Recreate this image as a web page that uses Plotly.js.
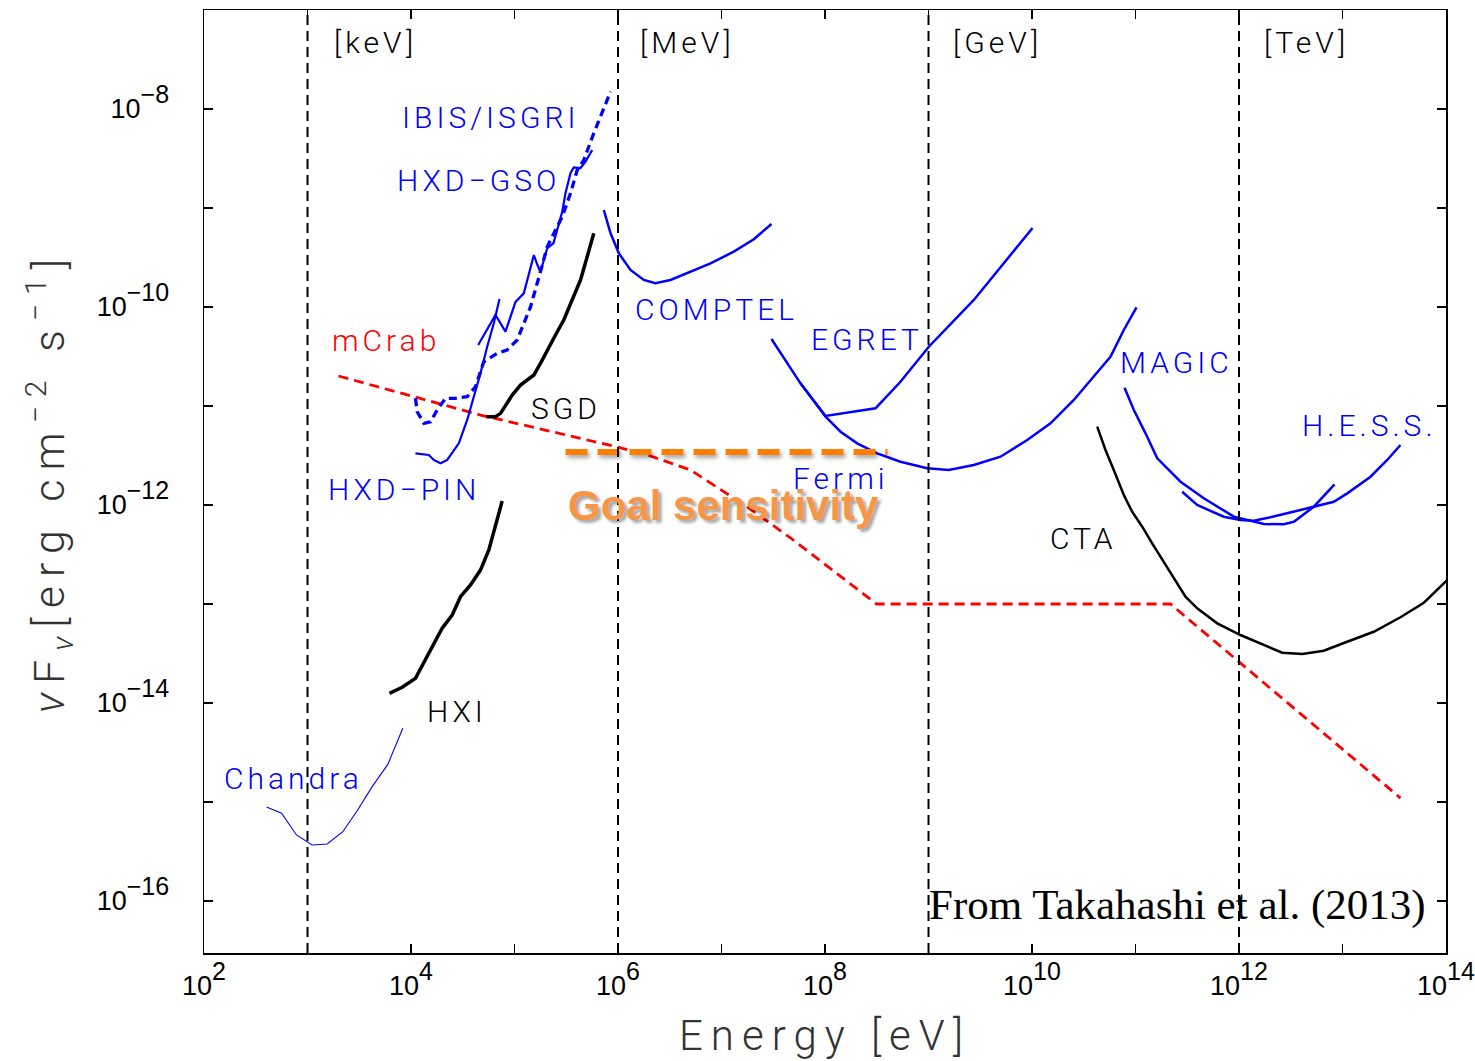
<!DOCTYPE html>
<html><head><meta charset="utf-8">
<script src="https://cdn.plot.ly/plotly-3.0.1.min.js"></script>
<style>html,body{margin:0;padding:0;background:#fff}</style>
</head><body><div id="chart" style="width:1475px;height:1061px"></div>
<script>
// ---------------- data (energy in eV, nuFnu in erg cm^-2 s^-1) ----------------
var chandraE = [402, 561, 783, 1109, 1549, 2193, 3020, 4217, 5970, 8337];
var chandraF = [8.89e-16, 7.69e-16, 4.65e-16, 3.68e-16, 3.77e-16, 5.01e-16, 8.17e-16, 1.43e-15, 2.40e-15, 5.55e-15];

var hxiE = [6194, 8222, 11040, 16030, 20000, 25000, 30060, 37580, 46880, 56490, 65460, 76030];
var hxiF = [1.253e-14, 1.442e-14, 1.774e-14, 3.707e-14, 5.689e-14, 7.745e-14, 1.186e-13, 1.556e-13, 2.203e-13, 3.508e-13, 6.039e-13, 1.096e-12];

var pinE = [11040, 14860, 16600, 19280, 22390, 28970, 34910, 40460, 46880, 54450, 63100, 71610];
var pinF = [3.327e-12, 3.199e-12, 2.851e-12, 2.636e-12, 2.851e-12, 4.198e-12, 7.228e-12, 1.242e-11, 2.138e-11, 3.972e-11, 6.839e-11, 1.205e-10];

var gsoE = [44570, 65460, 81850, 102300, 123000, 137400, 153800, 166700, 178200, 207000, 238200, 289100, 311200, 347500, 374100, 434500, 485300, 563600];
var gsoF = [4.130e-11, 8.299e-11, 5.636e-11, 1.125e-10, 1.374e-10, 2.188e-10, 3.350e-10, 2.655e-10, 2.259e-10, 3.917e-10, 4.426e-10, 9.183e-10, 1.419e-9, 2.244e-9, 2.576e-9, 2.535e-9, 2.938e-9, 3.855e-9];

var ibisE = [11040, 11480, 13310, 15420, 17910, 21530, 26920, 34910, 41980, 50470, 68080, 84920, 106200, 123000, 142900, 178200, 207000, 289100, 347500, 403600, 467700, 583400, 703100, 847200];
var ibisF = [1.197e-11, 8.750e-12, 6.683e-12, 6.934e-12, 9.120e-12, 1.197e-11, 1.197e-11, 1.242e-11, 1.567e-11, 2.799e-11, 3.404e-11, 3.681e-11, 4.645e-11, 6.839e-11, 1.007e-10, 2.275e-10, 4.064e-10, 8.166e-10, 1.406e-9, 2.421e-9, 3.055e-9, 5.689e-9, 9.057e-9, 1.496e-8];

var sgdE = [53580, 65460, 73280, 81850, 95060, 114300, 132700, 153800, 178200, 207000, 248900, 299200, 374100, 434500, 503500, 583400];
var sgdF = [7.798e-12, 7.798e-12, 8.433e-12, 1.023e-11, 1.291e-11, 1.629e-11, 1.832e-11, 2.056e-11, 2.698e-11, 3.681e-11, 5.212e-11, 7.396e-11, 1.271e-10, 1.875e-10, 3.221e-10, 5.546e-10];

var comptelE = [7.295e5, 8.472e5, 1.019e6, 1.321e6, 1.774e6, 2.301e6, 3.214e6, 4.667e6, 7.834e6, 1.315e7, 2.051e7, 3.041e7];
var comptelF = [9.550e-10, 5.546e-10, 3.483e-10, 2.366e-10, 1.875e-10, 1.738e-10, 1.875e-10, 2.188e-10, 2.761e-10, 3.622e-10, 4.831e-10, 6.887e-10];

var egretE = [3.041e7, 5.794e7, 1.012e8, 3.076e8, 5.358e8, 1.007e9, 2.742e9, 1.012e10];
var egretF = [4.753e-11, 1.694e-11, 7.925e-12, 9.484e-12, 1.758e-11, 3.972e-11, 1.178e-10, 6.281e-10];

var fermiE = [5.794e7, 1.012e8, 1.413e8, 2.046e8, 3.192e8, 5.358e8, 9.705e8, 1.570e9, 2.742e9, 4.966e9, 8.995e9, 1.510e10, 2.535e10, 3.954e10, 5.728e10, 7.709e10, 1.023e11];
var fermiF = [1.694e-11, 7.798e-12, 5.495e-12, 4.198e-12, 3.327e-12, 2.735e-12, 2.350e-12, 2.259e-12, 2.535e-12, 3.076e-12, 4.539e-12, 6.683e-12, 1.151e-11, 1.977e-11, 3.148e-11, 5.861e-11, 9.931e-11];

var magicE = [7.834e10, 9.638e10, 1.250e11, 1.622e11, 2.723e11, 4.571e11, 8.913e11, 1.390e12, 1.738e12, 2.710e12, 3.388e12, 5.284e12, 8.375e12];
var magicF = [1.531e-11, 9.120e-12, 5.297e-12, 2.965e-12, 1.718e-12, 1.169e-12, 7.621e-13, 6.776e-13, 6.427e-13, 6.383e-13, 6.776e-13, 9.616e-13, 1.618e-12];

var hessE = [2.825e11, 3.945e11, 7.129e11, 1.033e12, 1.390e12, 2.014e12, 3.926e12, 8.241e12, 1.112e13, 1.866e13, 2.704e13, 3.631e13];
var hessF = [1.361e-12, 1.000e-12, 7.621e-13, 7.047e-13, 6.934e-13, 7.516e-13, 8.892e-13, 1.079e-12, 1.312e-12, 1.932e-12, 2.851e-12, 4.036e-12];

var ctaE = [4.266e10, 5.129e10, 6.166e10, 7.709e10, 9.290e10, 1.161e11, 1.449e11, 1.746e11, 2.178e11, 3.041e11, 3.945e11, 6.166e11, 1.033e12, 1.738e12, 2.618e12, 4.083e12, 6.592e12, 1.109e13, 2.004e13, 3.631e13, 6.109e13, 1.028e14];
var ctaF = [6.180e-12, 3.597e-12, 2.259e-12, 1.262e-12, 8.551e-13, 6.039e-13, 4.102e-13, 3.006e-13, 2.042e-13, 1.186e-13, 9.036e-14, 6.383e-14, 4.864e-14, 3.855e-14, 3.221e-14, 3.126e-14, 3.373e-14, 4.159e-14, 5.248e-14, 7.345e-14, 1.030e-13, 1.746e-13];

var crabE = [1995, 46880, 988600, 2.061e6, 5.012e6, 1.782e7, 4.645e7, 3.148e8, 2.178e11, 3.631e13];
var crabF = [2.009e-11, 8.110e-12, 3.855e-12, 3.126e-12, 2.259e-12, 9.550e-13, 4.645e-13, 1.0e-13, 1.0e-13, 1.096e-15];

var goalE = [3.11e5, 4.02e8];
var goalF = [3.43e-12, 3.43e-12];

var unitBoundaries = [1e3, 1e6, 1e9, 1e12];
var unitLabels = ['[keV]', '[MeV]', '[GeV]', '[TeV]'];

var xTickVals = [1e2,1e3,1e4,1e5,1e6,1e7,1e8,1e9,1e10,1e11,1e12,1e13,1e14];
var xTickExp = ['2','','4','','6','','8','','10','','12','','14'];
var yTickVals = [1e-16,1e-15,1e-14,1e-13,1e-12,1e-11,1e-10,1e-9,1e-8];
var yTickExp = ['\u221216','','\u221214','','\u221212','','\u221210','','\u22128'];

// ---------------- styles ----------------
var BLUE = '#0000ff', RED = '#ff0000', BLACK = '#000000', ORANGE = '#ff8000';
var LFONT = 'Roboto, "DejaVu Sans", sans-serif';

function powLabel(e) {
  return e === '' ? '' : '10<sup>' + e + '</sup>';
}

function line(x, y, color, width, dash) {
  return {x: x, y: y, type: 'scatter', mode: 'lines', hoverinfo: 'skip', showlegend: false,
          line: {color: color, width: width, dash: dash || 'solid'}};
}

var traces = [
  line(crabE, crabF, RED, 2.8, '10px,6px'),
  line(chandraE, chandraF, BLUE, 1.1),
  line(hxiE, hxiF, BLACK, 3.5),
  line(pinE, pinF, BLUE, 2.2),
  line(gsoE, gsoF, BLUE, 2.2),
  line(ibisE, ibisF, BLUE, 3.3, '8px,5px'),
  line(sgdE, sgdF, BLACK, 3.5),
  line(comptelE, comptelF, BLUE, 2.5),
  line(egretE, egretF, BLUE, 2.5),
  line(fermiE, fermiF, BLUE, 2.5),
  line(magicE, magicF, BLUE, 2.5),
  line(hessE, hessF, BLUE, 2.5),
  line(ctaE, ctaF, BLACK, 2.5),
  line(goalE, goalF, ORANGE, 6, '22px,10px')
];

var shapes = unitBoundaries.map(function (e) {
  return {type: 'line', xref: 'x', yref: 'paper', x0: e, x1: e, y0: 0, y1: 1,
          line: {color: BLACK, width: 2, dash: '10px,6px'}};
});

// label positions in log10 axis units
var labels = [
  {t: unitLabels[0], x: 3.657, y: -7.333, c: BLACK},
  {t: unitLabels[1], x: 6.671, y: -7.333, c: BLACK},
  {t: unitLabels[2], x: 9.667, y: -7.333, c: BLACK},
  {t: unitLabels[3], x: 12.652, y: -7.333, c: BLACK},
  {t: 'IBIS/ISGRI', x: 4.768, y: -8.081, c: BLUE},
  {t: 'HXD\u2212GSO', x: 4.652, y: -8.727, c: BLUE},
  {t: 'COMPTEL', x: 6.952, y: -10.03, c: BLUE},
  {t: 'EGRET', x: 8.401, y: -10.333, c: BLUE},
  {t: 'mCrab', x: 3.754, y: -10.343, c: RED},
  {t: 'MAGIC', x: 11.396, y: -10.556, c: BLUE},
  {t: 'SGD', x: 5.502, y: -11.03, c: BLACK},
  {t: 'H.E.S.S.', x: 13.261, y: -11.192, c: BLUE},
  {t: 'Fermi', x: 8.159, y: -11.737, c: BLUE},
  {t: 'HXD\u2212PIN', x: 3.928, y: -11.848, c: BLUE},
  {t: 'CTA', x: 10.498, y: -12.343, c: BLACK},
  {t: 'HXI', x: 4.449, y: -14.081, c: BLACK},
  {t: 'Chandra', x: 2.865, y: -14.758, c: BLUE}
];
var annotations = labels.map(function (L) {
  return {text: L.t, x: L.x, y: L.y, xref: 'x', yref: 'y', showarrow: false,
          xanchor: 'center', yanchor: 'middle',
          font: {family: LFONT, size: 30, color: L.c, weight: 300}};
});
var plainIdx = [];
plainIdx.push(annotations.length);
annotations.push({text: '<b>Goal sensitivity</b>', x: 7.01, y: -12.0, xref: 'x', yref: 'y', showarrow: false,
  xanchor: 'center', yanchor: 'middle',
  font: {family: '"Liberation Sans", Arial, sans-serif', size: 42, color: '#f79646',
         shadow: '3px 3px 3px rgba(0,0,0,0.35)'}});
plainIdx.push(annotations.length);
annotations.push({text: 'From Takahashi et al. (2013)', x: 11.405, y: -16.04, xref: 'x', yref: 'y', showarrow: false,
  xanchor: 'center', yanchor: 'middle',
  font: {family: '"Liberation Serif", "Times New Roman", serif', size: 43, color: BLACK}});

// letter spacing to mimic the wide plotting-package font; full-size exponents on tick labels
var css = '.annotation-text{letter-spacing:4px}' +
  plainIdx.map(function (i) { return 'g.annotation[data-index="' + i + '"] .annotation-text{letter-spacing:0}'; }).join('') +
  '.xtitle{letter-spacing:8px}.ytitle{letter-spacing:9px}' +
  '.xtick text tspan,.ytick text tspan{font-size:25px !important}' +
  '.scatterlayer .trace:last-child path.js-line{filter:drop-shadow(2px 3px 2px rgba(0,0,0,0.35))}';
var st = document.createElement('style'); st.textContent = css; document.head.appendChild(st);

var axisCommon = {
  type: 'log', showgrid: false, zeroline: false, showline: true, linecolor: BLACK, linewidth: 1.5,
  mirror: 'ticks', ticks: 'inside', ticklen: 9, tickwidth: 1.2, tickcolor: BLACK,
  tickfont: {family: '"Liberation Sans", Arial, sans-serif', size: 27, color: BLACK},
  ticklabeloverflow: 'allow',
  automargin: false
};

var layout = {
  width: 1475, height: 1061,
  margin: {l: 204, r: 29, t: 10, b: 108},
  paper_bgcolor: '#fff', plot_bgcolor: '#fff',
  xaxis: Object.assign({}, axisCommon, {
    range: [2, 14], tickvals: xTickVals, ticktext: xTickExp.map(powLabel), ticklabelstandoff: 8,
    title: {text: 'Energy [eV]', standoff: 20, font: {family: LFONT, size: 42, color: '#333', weight: 300}}
  }),
  yaxis: Object.assign({}, axisCommon, {
    range: [-16.525, -7.0], tickvals: yTickVals, ticktext: yTickExp.map(powLabel), ticklabelstandoff: 28,
    title: {text: '<i>\u03bd</i>F<sub><i>\u03bd</i></sub>[erg cm<sup>\u22122</sup> s<sup>\u22121</sup>]', standoff: 18,
            font: {family: LFONT, size: 43, color: '#333', weight: 300}}
  }),
  shapes: shapes,
  annotations: annotations,
  showlegend: false
};

Plotly.newPlot('chart', traces, layout, {staticPlot: true, displayModeBar: false});
</script></body></html>
